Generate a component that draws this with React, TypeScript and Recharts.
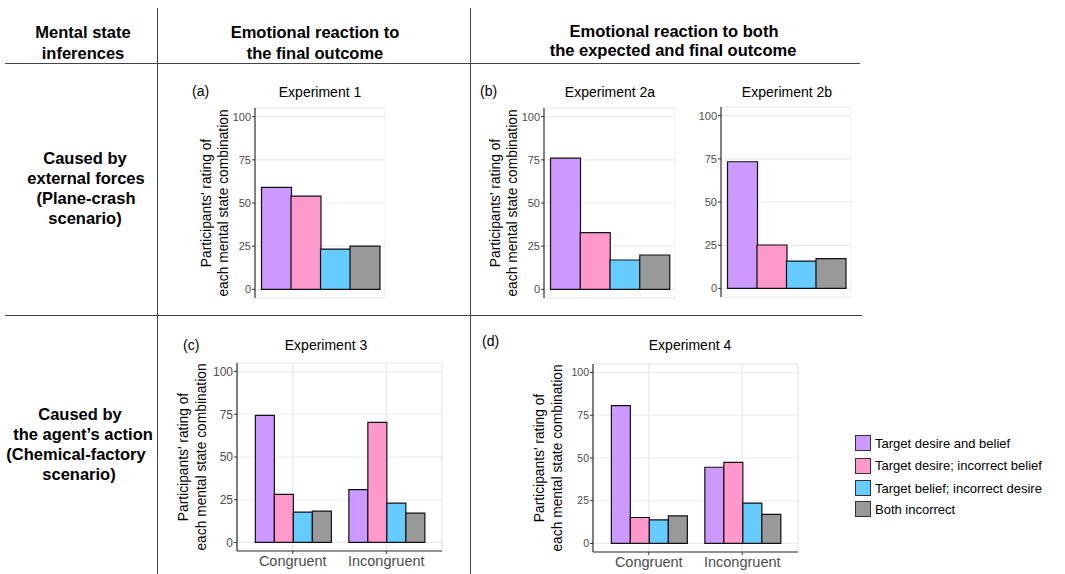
import { BarChart, Bar, Cell, XAxis, YAxis, CartesianGrid } from "recharts";

// legend / fill order
const seriesNames = [
  "Target desire and belief",
  "Target desire; incorrect belief",
  "Target belief; incorrect desire",
  "Both incorrect",
];
const seriesColors = ["#CC99FF", "#FF99CC", "#66CCFF", "#999999"];

// experiments with a single outcome (one bar per mental state)
const exp1 = [59, 54, 23.3, 25];
const exp2a = [76, 32.8, 17, 19.9];
const exp2b = [73.3, 25.1, 15.8, 17.2];

// experiments with two conditions
const conditions = ["Congruent", "Incongruent"];
const exp3Congruent = [74.4, 28.1, 17.8, 18.3];
const exp3Incongruent = [30.9, 70.3, 23.0, 17.2];
const exp4Congruent = [80.7, 15.2, 13.8, 16.1];
const exp4Incongruent = [44.6, 47.4, 23.6, 17.0];

const yTicks = [0, 25, 50, 75, 100];
const yMinorTicks = [0, 12.5, 25, 37.5, 50, 62.5, 75, 87.5, 100];
const edgeTicks = [0, 1, 2, 3, 4];
const halfTicks = [0, 0.5, 1, 1.5, 2, 2.5, 3, 3.5, 4];

const BORDER = "#333333";
const GRID = "#EBEBEB";
const TICK_TXT = "#4D4D4D";
const FONT = "'Liberation Sans', Arial, Helvetica, sans-serif";

function T({ x, y, size = 14, bold = false, left = false, children }: any) {
  return (
    <div
      style={{
        position: "absolute",
        left: x,
        top: y,
        transform: left ? "translate(0,-50%)" : "translate(-50%,-50%)",
        fontSize: size,
        fontWeight: bold ? 700 : 400,
        lineHeight: 1,
        whiteSpace: "nowrap",
        color: "#000",
      }}
    >
      {children}
    </div>
  );
}

function YTitle({ box, off1, off2 }: any) {
  const cy = box.top + box.height / 2;
  const style: any = {
    position: "absolute",
    top: cy,
    transform: "translate(-50%,-50%) rotate(-90deg)",
    fontSize: 13.8,
    lineHeight: 1,
    whiteSpace: "nowrap",
  };
  return (
    <>
      <div style={{ ...style, left: box.left - off1 }}>Participants' rating of</div>
      <div style={{ ...style, left: box.left - off2 }}>each mental state combination</div>
    </>
  );
}

const PAD_L = 70;
const PAD_T = 4;
const PAD_R = 4;
const PAD_B = 28;
const Y_W = 30;

function frame(box: any) {
  return {
    position: "absolute" as const,
    left: box.left - PAD_L,
    top: box.top - PAD_T,
  };
}

function SinglePanel({ box, values, tickFont }: any) {
  const data = seriesNames.map((name, i) => ({ name, value: values[i] }));
  const pad = { left: 6.5, right: 5.5 };
  return (
    <div style={frame(box)}>
      <BarChart
        width={box.width + PAD_L + PAD_R}
        height={box.height + PAD_T + PAD_B}
        data={data}
        margin={{ top: PAD_T, right: PAD_R, left: PAD_L - Y_W, bottom: PAD_B - 6 }}
        barCategoryGap={0}
        barGap={0}
      >
        <CartesianGrid xAxisId="grid" yAxisId="minor" stroke={GRID} strokeWidth={0.7} />
        <CartesianGrid xAxisId="grid" yAxisId="y" vertical={false} stroke={GRID} strokeWidth={1.2} />
        <XAxis xAxisId="cat" dataKey="name" hide padding={pad} />
        <XAxis
          xAxisId="grid"
          type="number"
          domain={[0, 4]}
          ticks={halfTicks}
          allowDataOverflow
          padding={pad}
          tick={false}
          tickLine={false}
          axisLine={false}
          height={0}
        />
        <XAxis
          xAxisId="num"
          type="number"
          domain={[0, 4]}
          ticks={edgeTicks}
          allowDataOverflow
          padding={pad}
          tick={false}
          tickSize={3}
          tickLine={{ stroke: BORDER }}
          axisLine={{ stroke: BORDER, strokeWidth: 1.2 }}
          height={6}
        />
        <XAxis
          xAxisId="top"
          orientation="top"
          type="number"
          domain={[0, 1]}
          allowDataOverflow
          tick={false}
          tickLine={false}
          axisLine={{ stroke: BORDER, strokeWidth: 1.2 }}
          height={0}
        />
        <YAxis
          yAxisId="y"
          domain={[-5, 105]}
          ticks={yTicks}
          allowDataOverflow
          width={Y_W}
          tickSize={3}
          tickMargin={1}
          tick={{ fontSize: tickFont, fill: TICK_TXT }}
          tickLine={{ stroke: BORDER }}
          axisLine={{ stroke: BORDER, strokeWidth: 1.2 }}
        />
        <YAxis
          yAxisId="minor"
          orientation="right"
          domain={[-5, 105]}
          ticks={yMinorTicks}
          allowDataOverflow
          width={0}
          tick={false}
          tickLine={false}
          axisLine={{ stroke: BORDER, strokeWidth: 1.2 }}
        />
        <Bar
          xAxisId="cat"
          yAxisId="y"
          dataKey="value"
          stroke="#111"
          strokeWidth={1.2}
          isAnimationActive={false}
        >
          {data.map((d, i) => (
            <Cell key={d.name} fill={seriesColors[i]} />
          ))}
        </Bar>
      </BarChart>
    </div>
  );
}

function DodgePanel({ box, congruent, incongruent, tickFont }: any) {
  const groups = [congruent, incongruent];
  const data = conditions.map((cond, j) => ({
    cond,
    s0: groups[j][0],
    s1: groups[j][1],
    s2: groups[j][2],
    s3: groups[j][3],
  }));
  return (
    <div style={frame(box)}>
      <BarChart
        width={box.width + PAD_L + PAD_R}
        height={box.height + PAD_T + PAD_B}
        data={data}
        margin={{ top: PAD_T, right: PAD_R, left: PAD_L - Y_W, bottom: PAD_B - 22 }}
        barCategoryGap="10%"
        barGap={0}
      >
        <CartesianGrid xAxisId="cat" yAxisId="minor" stroke={GRID} strokeWidth={0.7} />
        <CartesianGrid xAxisId="cat" yAxisId="y" stroke={GRID} strokeWidth={1.2} />
        <XAxis
          xAxisId="cat"
          dataKey="cond"
          padding={{ left: 9, right: 9 }}
          tickSize={3}
          tickMargin={2}
          tick={{ fontSize: 14.5, fill: TICK_TXT }}
          tickLine={{ stroke: BORDER }}
          axisLine={{ stroke: BORDER, strokeWidth: 1.2 }}
          height={22}
          interval={0}
        />
        <XAxis
          xAxisId="top"
          orientation="top"
          type="number"
          domain={[0, 1]}
          allowDataOverflow
          tick={false}
          tickLine={false}
          axisLine={{ stroke: BORDER, strokeWidth: 1.2 }}
          height={0}
        />
        <YAxis
          yAxisId="y"
          domain={[-5, 105]}
          ticks={yTicks}
          allowDataOverflow
          width={Y_W}
          tickSize={3}
          tickMargin={1}
          tick={{ fontSize: tickFont, fill: TICK_TXT }}
          tickLine={{ stroke: BORDER }}
          axisLine={{ stroke: BORDER, strokeWidth: 1.2 }}
        />
        <YAxis
          yAxisId="minor"
          orientation="right"
          domain={[-5, 105]}
          ticks={yMinorTicks}
          allowDataOverflow
          width={0}
          tick={false}
          tickLine={false}
          axisLine={{ stroke: BORDER, strokeWidth: 1.2 }}
        />
        {seriesNames.map((name, i) => (
          <Bar
            key={name}
            name={name}
            xAxisId="cat"
            yAxisId="y"
            dataKey={"s" + i}
            fill={seriesColors[i]}
            stroke="#111"
            strokeWidth={1.2}
            isAnimationActive={false}
          />
        ))}
      </BarChart>
    </div>
  );
}

const boxA = { left: 255, top: 108, width: 130, height: 190 };
const boxB1 = { left: 544, top: 108, width: 131, height: 190 };
const boxB2 = { left: 721, top: 107, width: 130, height: 190 };
const boxC = { left: 237, top: 363, width: 205, height: 188 };
const boxD = { left: 593, top: 364, width: 205, height: 188 };

function Rule({ x, y, w, h }: any) {
  return (
    <div style={{ position: "absolute", left: x, top: y, width: w, height: h, background: "#444" }} />
  );
}

export default function App() {
  return (
    <div
      style={{
        position: "absolute",
        left: 0,
        top: 0,
        width: 1065,
        height: 574,
        background: "#fff",
        overflow: "hidden",
        fontFamily: FONT,
      }}
    >
      {/* table rules */}
      <Rule x={5} y={62.5} w={855} h={1.6} />
      <Rule x={5} y={314.5} w={857} h={1.6} />
      <Rule x={156.5} y={8} w={1.4} h={566} />
      <Rule x={469.5} y={8} w={1.4} h={566} />

      {/* header */}
      <T x={83} y={32} size={16.5} bold>Mental state</T>
      <T x={83} y={52.5} size={16.5} bold>inferences</T>
      <T x={315} y={32} size={16.5} bold>Emotional reaction to</T>
      <T x={315} y={52.5} size={16.5} bold>the final outcome</T>
      <T x={674} y={31} size={16.5} bold>Emotional reaction to both</T>
      <T x={673} y={49.5} size={16.5} bold>the expected and final outcome</T>

      {/* row labels */}
      <T x={85} y={157.5} size={16.5} bold>Caused by</T>
      <T x={86} y={177.5} size={16.5} bold>external forces</T>
      <T x={86} y={197.5} size={16.5} bold>(Plane-crash</T>
      <T x={85} y={217.5} size={16.5} bold>scenario)</T>
      <T x={80} y={414} size={16.5} bold>Caused by</T>
      <T x={83} y={434} size={16.5} bold>the agent’s action</T>
      <T x={76} y={454} size={16.5} bold>(Chemical-factory</T>
      <T x={79} y={474} size={16.5} bold>scenario)</T>

      {/* panel labels and titles */}
      <T x={192} y={91} size={14} left>(a)</T>
      <T x={320} y={92} size={14}>Experiment 1</T>
      <T x={480} y={91} size={14} left>(b)</T>
      <T x={610} y={92} size={14}>Experiment 2a</T>
      <T x={787} y={92} size={14}>Experiment 2b</T>
      <T x={183} y={345} size={14} left>(c)</T>
      <T x={326} y={345} size={14}>Experiment 3</T>
      <T x={482} y={341} size={14} left>(d)</T>
      <T x={690} y={345} size={14}>Experiment 4</T>

      <YTitle box={boxA} off1={48.5} off2={31.5} />
      <YTitle box={boxB1} off1={48.5} off2={31.5} />
      <YTitle box={boxC} off1={53} off2={35} />
      <YTitle box={boxD} off1={53} off2={35} />

      <SinglePanel box={boxA} values={exp1} tickFont={11} />
      <SinglePanel box={boxB1} values={exp2a} tickFont={11} />
      <SinglePanel box={boxB2} values={exp2b} tickFont={11} />
      <DodgePanel box={boxC} congruent={exp3Congruent} incongruent={exp3Incongruent} tickFont={12} />
      <DodgePanel box={boxD} congruent={exp4Congruent} incongruent={exp4Incongruent} tickFont={10.5} />

      {/* legend */}
      {seriesNames.map((name, i) => (
        <div
          key={name}
          style={{
            position: "absolute",
            left: 855,
            top: [443, 465.5, 488, 509][i],
            transform: "translateY(-50%)",
            display: "flex",
            alignItems: "center",
            fontSize: 13,
            lineHeight: 1,
            whiteSpace: "nowrap",
          }}
        >
          <span
            style={{
              display: "inline-block",
              width: 16,
              height: 16,
              background: seriesColors[i],
              border: "1px solid #333",
              marginRight: 4,
              boxSizing: "border-box",
            }}
          />
          {name}
        </div>
      ))}
    </div>
  );
}
